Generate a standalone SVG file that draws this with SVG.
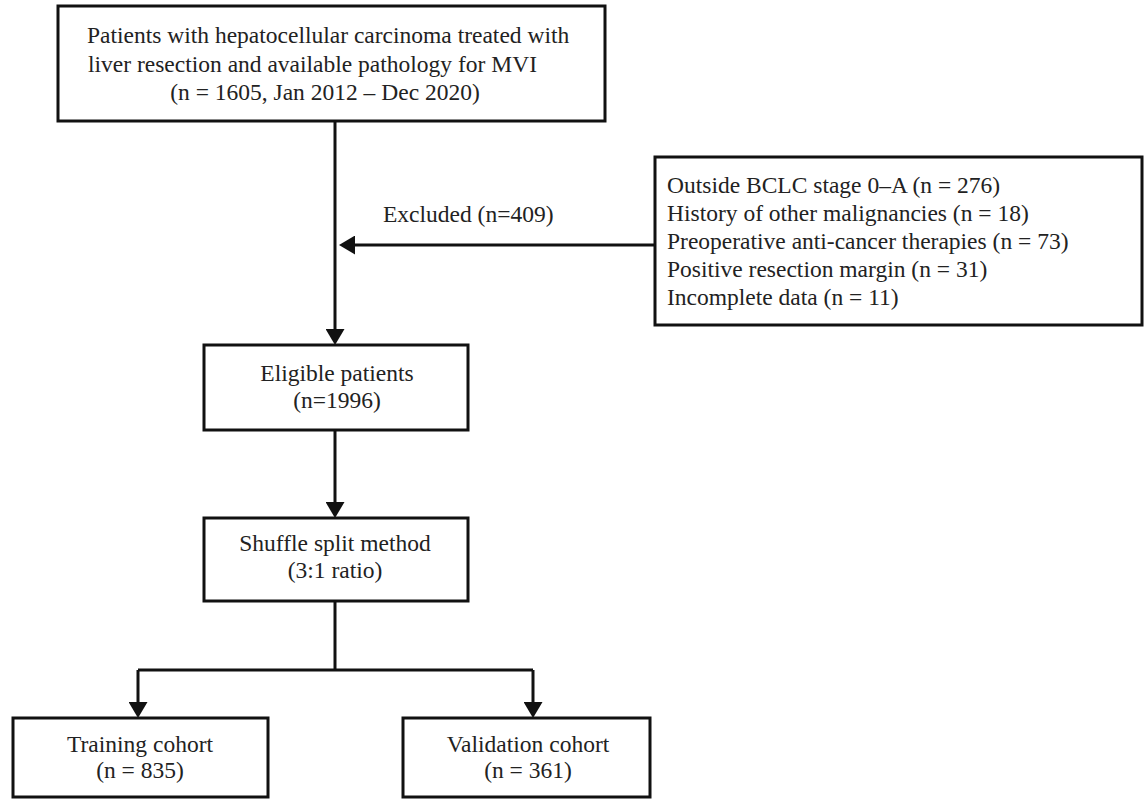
<svg xmlns="http://www.w3.org/2000/svg" width="1145" height="799" viewBox="0 0 1145 799">
  <style>
    .box { fill: #ffffff; stroke: #111111; stroke-width: 3; }
    .conn { fill: none; stroke: #111111; stroke-width: 3; }
    .t { font-family: "Liberation Serif", "Times New Roman", serif; font-size: 23.5px; fill: #222222; }
    .c { text-anchor: middle; }
  </style>
  <defs>
    <marker id="arr" viewBox="0 0 16 19" markerWidth="16" markerHeight="19" refX="12" refY="9.5" orient="auto" markerUnits="userSpaceOnUse">
      <path d="M0,0 L16,9.5 L0,19 Z" fill="#111111"/>
    </marker>
  </defs>
  <rect width="1145" height="799" fill="#ffffff"/>

  <g id="connectors">
    <path class="conn" d="M335,121 V341" marker-end="url(#arr)"/>
    <path class="conn" d="M655,245 H343" marker-end="url(#arr)"/>
    <path class="conn" d="M335,430 V514" marker-end="url(#arr)"/>
    <path class="conn" d="M335,601 V670"/>
    <path class="conn" d="M138,670 H533"/>
    <path class="conn" d="M138,670 V714" marker-end="url(#arr)"/>
    <path class="conn" d="M533,670 V714" marker-end="url(#arr)"/>
  </g>

  <g id="node-start">
    <rect class="box" x="58" y="6" width="547" height="115"/>
    <text class="t" x="87" y="43">Patients with hepatocellular carcinoma treated with</text>
    <text class="t" x="88" y="72">liver resection and available pathology for MVI</text>
    <text class="t c" x="325" y="100">(n = 1605, Jan 2012 – Dec 2020)</text>
  </g>

  <g id="node-excluded-label">
    <text class="t" x="383" y="222">Excluded (n=409)</text>
  </g>

  <g id="node-exclusions">
    <rect class="box" x="655" y="157" width="487" height="168"/>
    <text class="t" x="667" y="193">Outside BCLC stage 0–A (n = 276)</text>
    <text class="t" x="667" y="221">History of other malignancies (n = 18)</text>
    <text class="t" x="667" y="249">Preoperative anti-cancer therapies (n = 73)</text>
    <text class="t" x="667" y="277">Positive resection margin (n = 31)</text>
    <text class="t" x="667" y="305">Incomplete data (n = 11)</text>
  </g>

  <g id="node-eligible">
    <rect class="box" x="204" y="345" width="264" height="85"/>
    <text class="t c" x="337" y="381">Eligible patients</text>
    <text class="t c" x="337" y="408">(n=1996)</text>
  </g>

  <g id="node-shuffle">
    <rect class="box" x="204" y="518" width="264" height="83"/>
    <text class="t c" x="335" y="551">Shuffle split method</text>
    <text class="t c" x="335" y="578">(3:1 ratio)</text>
  </g>

  <g id="node-training">
    <rect class="box" x="13" y="718" width="255" height="79"/>
    <text class="t c" x="140" y="752">Training cohort</text>
    <text class="t c" x="140" y="778">(n = 835)</text>
  </g>

  <g id="node-validation">
    <rect class="box" x="403" y="718" width="247" height="79"/>
    <text class="t c" x="528" y="752">Validation cohort</text>
    <text class="t c" x="528" y="778">(n = 361)</text>
  </g>
</svg>
